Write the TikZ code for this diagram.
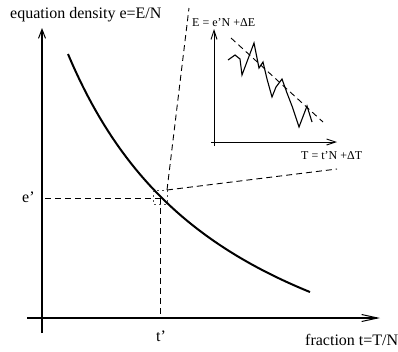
\documentclass[tikz,border=0pt]{standalone}
\usepackage{fontspec}
\setmainfont{Liberation Serif}
\usetikzlibrary{arrows.meta}
\begin{document}
\begin{tikzpicture}[x=1pt,y=-1pt,
  axis/.style={line width=1.1pt},
  bigarrow/.style={-{Straight Barb[length=9pt,width=7pt,line width=1pt]}},
  longarrow/.style={-{Straight Barb[length=16pt,width=7pt,line width=1pt]}},
  smallarrow/.style={-{Straight Barb[length=9pt,width=6pt,line width=0.9pt]}},
  guide/.style={line width=0.9pt,dash pattern=on 6pt off 4pt},
  fineguide/.style={line width=0.6pt,dash pattern=on 2pt off 3pt,black!70},
  curve/.style={line width=2pt},
  zig/.style={line width=1.1pt,line join=miter},
  biglabel/.style={font=\fontsize{16}{18}\selectfont,inner sep=0pt},
  smalllabel/.style={font=\fontsize{12}{14}\selectfont,inner sep=0pt}]
\useasboundingbox (0,0) rectangle (398,351);
% main axes
\coordinate (ybot) at (42,333);
\coordinate (ytop) at (42,28);
\coordinate (xleft) at (27,318);
\coordinate (xright) at (380,318);
\draw[axis,bigarrow] (ybot) -- (ytop);
\draw[axis,longarrow] (xleft) -- (xright);
% curve
\draw[curve] plot[domain=68:310,samples=80] (\x,{460.6-696.83/((\x+103.4)/100)});
% guides
\coordinate (P) at (160,198);
\coordinate (eaxis) at (45,198);
\coordinate (taxis) at (160,318);
\draw[guide] (eaxis) -- (P);
\draw[guide] (P) -- (taxis);
\draw[fineguide] (153,190) rectangle (167,204);
\coordinate (sq) at (167,190);
\coordinate (insetTL) at (189,8);
\coordinate (insetBR) at (337,169);
\draw[guide] (sq) -- (insetTL);
\draw[guide] (sq) -- (insetBR);
% inset axes
\coordinate (iybot) at (214,146);
\coordinate (iytop) at (214,29);
\coordinate (ixleft) at (211,142);
\coordinate (ixright) at (337,142);
\draw[line width=1pt,smallarrow] (iybot) -- (iytop);
\draw[line width=1pt,smallarrow] (ixleft) -- (ixright);
% inset trend
\draw[guide] (231,38) -- (323,122);
% inset zigzag
\draw[zig] (228,60) -- (235,55) -- (240,59) -- (242,75) -- (254,43) -- (259,68) -- (263,62) -- (267,79) -- (272,97) -- (276,87) -- (282,79) -- (287,93) -- (292,106) -- (299,127) -- (307,106) -- (312,122);
% labels
\node[biglabel,anchor=base west] (ylab) at (10,18) {equation density e=E/N};
\node[biglabel,anchor=base west] (xlab) at (305,345) {fraction t=T/N};
\node[biglabel,anchor=base] (tp) at (161,341) {t'};
\node[biglabel,anchor=base west] (ep) at (22,202) {e'};
\node[smalllabel,anchor=base west] (iylab) at (192,26) {E = e'N +ΔE};
\node[smalllabel,anchor=base west] (ixlab) at (301,159) {T = t'N +ΔT};
\end{tikzpicture}
\end{document}
